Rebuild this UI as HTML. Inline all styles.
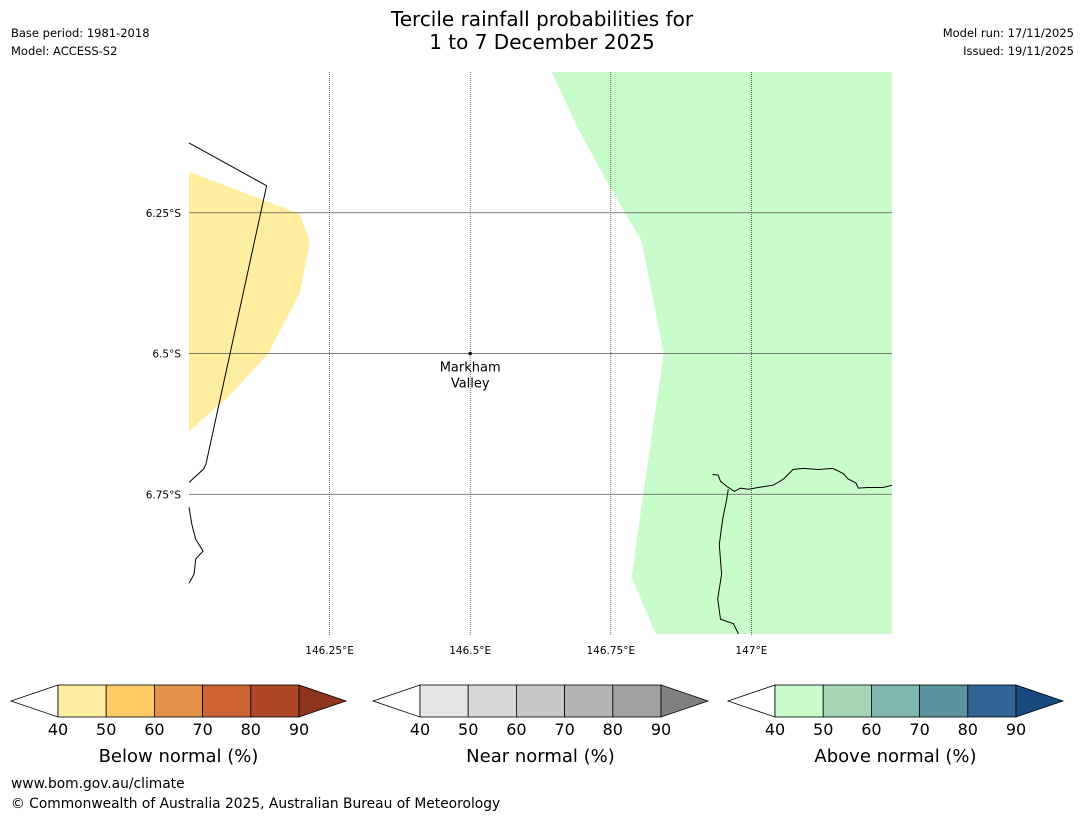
<!DOCTYPE html>
<html><head><meta charset="utf-8"><style>
body{margin:0;width:1085px;height:816px;background:#fff;font-family:"DejaVu Sans","Liberation Sans",sans-serif;overflow:hidden}
svg{display:block}
</style></head><body>
<svg width="1085" height="816">
<text x="542" y="26" text-anchor="middle" font-size="20">Tercile rainfall probabilities for</text>
<text x="542" y="49" text-anchor="middle" font-size="20">1 to 7 December 2025</text>
<text x="11" y="37" font-size="11.5">Base period: 1981-2018</text>
<text x="11" y="55" font-size="11.5">Model: ACCESS-S2</text>
<text x="1074" y="37" font-size="11.5" text-anchor="end">Model run: 17/11/2025</text>
<text x="1074" y="55" font-size="11.5" text-anchor="end">Issued: 19/11/2025</text>
<g id="map"></g>
<g id="bars"></g>
<text x="11" y="788" font-size="13.8">www.bom.gov.au/climate</text>
<text x="11" y="808" font-size="13.8">© Commonwealth of Australia 2025, Australian Bureau of Meteorology</text>
</svg>
<script>
const lonTicks=[146.25,146.5,146.75,147];
const lonLabels=["146.25°E","146.5°E","146.75°E","147°E"];
const latTicks=[-6.25,-6.5,-6.75];
const latLabels=["6.25°S","6.5°S","6.75°S"];
const aboveLon=[146.645,146.693,146.746,146.805,146.844,146.809,146.787,146.830,147.25,147.25];
const aboveLat=[-6.0,-6.103,-6.200,-6.301,-6.5,-6.741,-6.897,-6.998,-6.998,-6.0];
const belowLon=[146.0,146.197,146.215,146.197,146.140,146.069,146.0];
const belowLat=[-6.177,-6.252,-6.301,-6.392,-6.502,-6.578,-6.638];
const borderLon=[146.0,146.138,146.030,146.025,146.0];
const borderLat=[-6.126,-6.202,-6.697,-6.706,-6.729];
const coastLLon=[146.0,146.005,146.012,146.025,146.012,146.009,146.0];
const coastLLat=[-6.773,-6.803,-6.830,-6.851,-6.865,-6.892,-6.908];
const coastRLon=[146.931,146.941,146.945,146.956,146.970,146.980,146.995,147.012,147.039,147.057,147.074,147.092,147.119,147.145,147.163,147.172,147.186,147.190,147.207,147.234,147.25];
const coastRLat=[-6.715,-6.716,-6.727,-6.736,-6.745,-6.739,-6.741,-6.738,-6.734,-6.723,-6.706,-6.704,-6.706,-6.704,-6.713,-6.723,-6.730,-6.739,-6.738,-6.738,-6.734];
const riverLon=[146.959,146.956,146.949,146.943,146.947,146.940,146.945,146.968,146.977];
const riverLat=[-6.741,-6.759,-6.794,-6.839,-6.892,-6.936,-6.972,-6.980,-6.998];
const place=["Markham","Valley"];const placeLon=146.5,placeLat=-6.5;
const levels=[40,50,60,70,80,90];
const belowColors=["#ffeda0","#fecb64","#e09145","#cd6334","#ae4726","#8e3520"];
const nearColors=["#e6e6e6","#d8d8d8","#c8c8c8","#b4b4b4","#a0a0a0","#808080"];
const aboveColors=["#c9fccb","#a5d6b7","#80b6b0","#5a929e","#326496","#17487e"];
const barTitles=["Below normal (%)","Near normal (%)","Above normal (%)"];

const NS="http://www.w3.org/2000/svg";
const X0=189,X1=892,Y0=72,Y1=635,LON0=146,LON1=147.25,LAT0=-6,LAT1=-7;
const xs=l=>X0+(l-LON0)/(LON1-LON0)*(X1-X0);
const ys=l=>Y0+(l-LAT0)/(LAT1-LAT0)*(Y1-Y0);
function mk(t,a,p){const e=document.createElementNS(NS,t);for(const k in a)e.setAttribute(k,a[k]);p.appendChild(e);return e;}
const map=document.getElementById('map');
const pts=(lo,la)=>lo.map((v,i)=>xs(v).toFixed(1)+','+ys(la[i]).toFixed(1)).join(' ');
let e=mk('polygon',{points:pts(aboveLon,aboveLat),fill:'#c9fccb'},map);

e=mk('polygon',{points:pts(belowLon,belowLat),fill:'#ffeda0'},map);

lonTicks.forEach((t,i)=>{
 const l=mk('line',{x1:xs(t),x2:xs(t),y1:Y0,y2:Y1,stroke:'#333','stroke-width':0.7,'stroke-dasharray':'1,1'},map);
 
 const tx=mk('text',{x:xs(t),y:Y1+19,'font-size':10.5,'text-anchor':'middle'},map);tx.textContent=lonLabels[i];
 
});
latTicks.forEach((t,i)=>{
 const l=mk('line',{x1:X0,x2:X1,y1:ys(t),y2:ys(t),stroke:'#555','stroke-width':0.8},map);
 
 const tx=mk('text',{x:X0-8,y:ys(t)+4,'font-size':10.5,'text-anchor':'end'},map);tx.textContent=latLabels[i];
 
});
[[borderLon,borderLat,'province-border'],[coastLLon,coastLLat,'coastline-west'],[coastRLon,coastRLat,'coastline-east'],[riverLon,riverLat,'river']].forEach(([a,b,n])=>{
 const p=mk('polyline',{points:pts(a,b),fill:'none',stroke:'#000','stroke-width':1},map);
 
});
e=mk('circle',{cx:xs(placeLon),cy:ys(placeLat),r:1.8,fill:'#000'},map);

place.forEach((s,i)=>{const t=mk('text',{x:xs(placeLon),y:ys(placeLat)+18+i*16,'font-size':13,'text-anchor':'middle'},map);t.textContent=s;
 });

const bars=document.getElementById('bars');
const starts=[58,420,775],bw=48.2,by=685,bh=32;
[belowColors,nearColors,aboveColors].forEach((cols,k)=>{
 const x0=starts[k],xe=x0+5*bw;
 const g=mk('g',{},bars);
 mk('polygon',{points:`${x0},${by} ${x0-47},${by+bh/2} ${x0},${by+bh}`,fill:'#fff',stroke:'#000','stroke-width':0.8},g);
 for(let i=0;i<5;i++){const r=mk('rect',{x:x0+i*bw,y:by,width:bw,height:bh,fill:cols[i],stroke:'#000','stroke-width':0.8},g);
  }
 mk('polygon',{points:`${xe},${by} ${xe+47},${by+bh/2} ${xe},${by+bh}`,fill:cols[5],stroke:'#000','stroke-width':0.8},g);
 levels.forEach((v,i)=>{const t=mk('text',{x:x0+i*bw,y:735,'font-size':16,'text-anchor':'middle'},g);t.textContent=v;
  });
 const t=mk('text',{x:x0+2.5*bw,y:762,'font-size':18,'text-anchor':'middle'},g);t.textContent=barTitles[k];
 
});
</script>
</body></html>
